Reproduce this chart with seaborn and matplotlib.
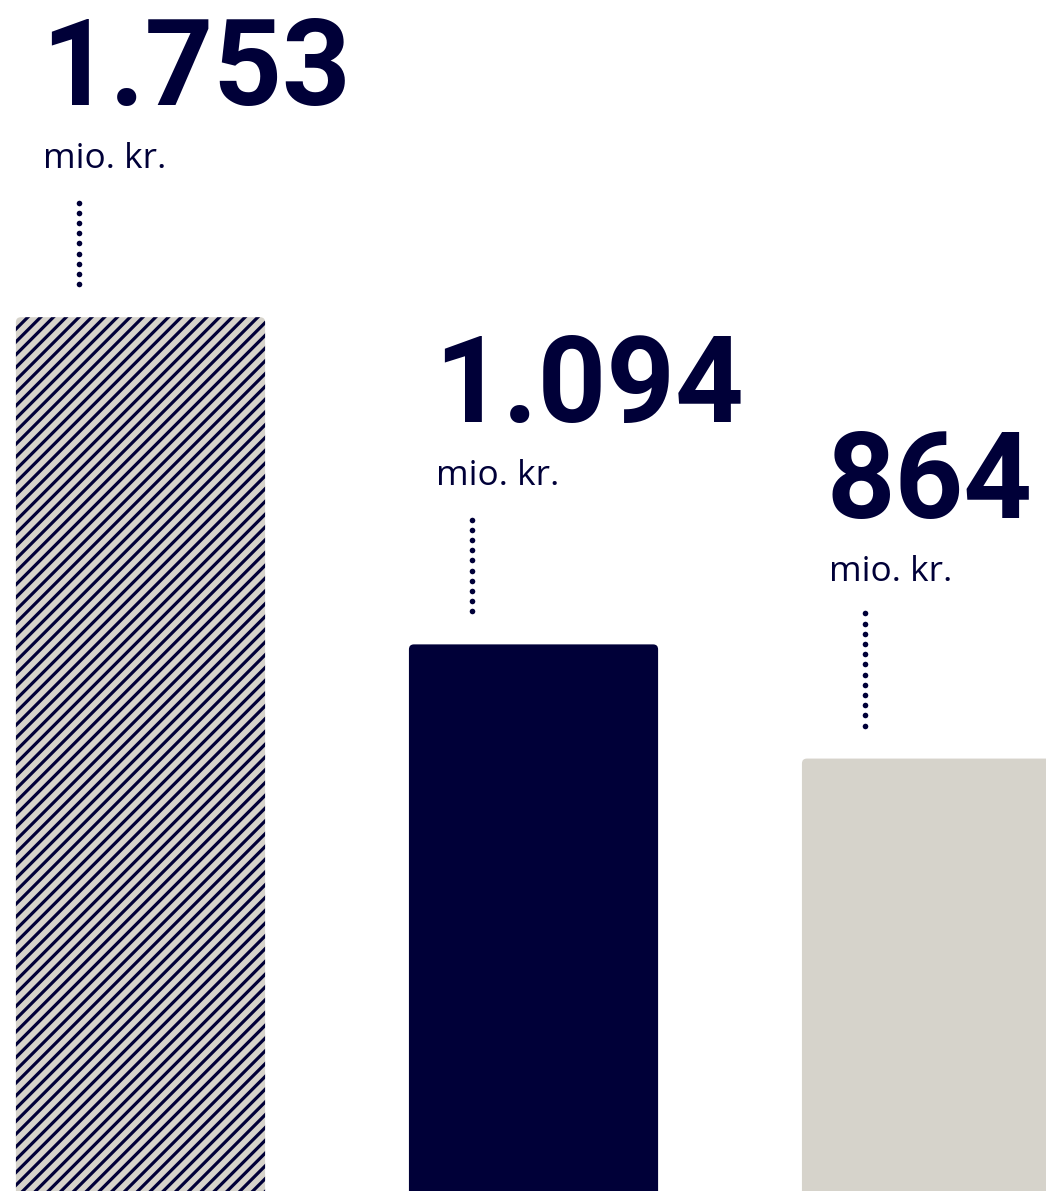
import matplotlib.pyplot as plt
import numpy as np
import pandas as pd
import seaborn as sns
from matplotlib.patches import FancyBboxPatch
from matplotlib.transforms import IdentityTransform

DPI = 115
W, H = 1046, 1191

# -----------------------------------------------------------------------------
#         Data
# -----------------------------------------------------------------------------
categories = ['a', 'b', 'c']
values = [1753, 1094, 864]
value_labels = ['1.753', '1.094', '864']
unit_label = 'mio. kr.'

NAVY = '#000038'
SAND = '#D6D3CB'
bar_colors = [SAND, NAVY, SAND]
hatched = [True, False, False]

# layout, in pixels
label_gap = [212, 222, 241]   # bar top -> big number baseline
text_dx = 25                  # bar left -> number anchor
unit_dx = 27                  # bar left -> unit anchor
dots_dx = 63                  # bar left -> dotted line
corner = 5

df = pd.DataFrame({'cat': categories, 'value': values})

sns.set_theme(style='white')
plt.rcParams['hatch.linewidth'] = 2.0

fig = plt.figure(figsize=(W / DPI, H / DPI), dpi=DPI)
ax = fig.add_axes([0, 0, 1, 1])

sns.barplot(ax=ax, data=df, x='cat', y='value', hue='cat',
            palette=bar_colors, legend=False, width=0.634,
            saturation=1, linewidth=0)

ax.set_xlim(-0.3575, 2.304)
ax.set_ylim(-7.0, 2391.9)
ax.set_axis_off()

# px per data unit, to get round corners
(x0, y0), (x1, y1) = ax.transData.transform([(0, 0), (1, 1)])
px_x, px_y = x1 - x0, y1 - y0
below = 40  # let the bars run off the bottom edge

bars = list(ax.patches)
for i, p in enumerate(bars):
    bx, bw, bh = p.get_x(), p.get_width(), p.get_height()
    fb = FancyBboxPatch((bx, -below), bw, bh + below,
                        boxstyle=f'round,pad=0,rounding_size={corner / px_x}',
                        mutation_aspect=px_x / px_y,
                        facecolor=bar_colors[i], linewidth=0,
                        edgecolor=NAVY if hatched[i] else 'none',
                        hatch='///' if hatched[i] else None)
    p.remove()
    ax.add_patch(fb)

    ax.annotate(value_labels[i], xy=(bx, bh), xytext=(text_dx, label_gap[i]),
                textcoords='offset pixels', ha='left', va='baseline',
                fontsize=75, fontweight='bold', family='Roboto', color=NAVY)
    ax.annotate(unit_label, xy=(bx, bh), xytext=(unit_dx, label_gap[i] - 63),
                textcoords='offset pixels', ha='left', va='baseline',
                fontsize=22, family='Open Sans', color=NAVY)

    # dotted leader between unit label and bar
    dx, dy = ax.transData.transform((bx, bh))
    top = dy + label_gap[i] - 63 - 33
    bottom = dy + 33
    ys = np.arange(bottom, top + 1, 10.2)
    ax.plot(np.full_like(ys, dx + dots_dx), ys, transform=IdentityTransform(),
            ls='none', marker='o', ms=3.5, mew=0, color=NAVY)

fig.savefig('out.png', dpi=DPI)
